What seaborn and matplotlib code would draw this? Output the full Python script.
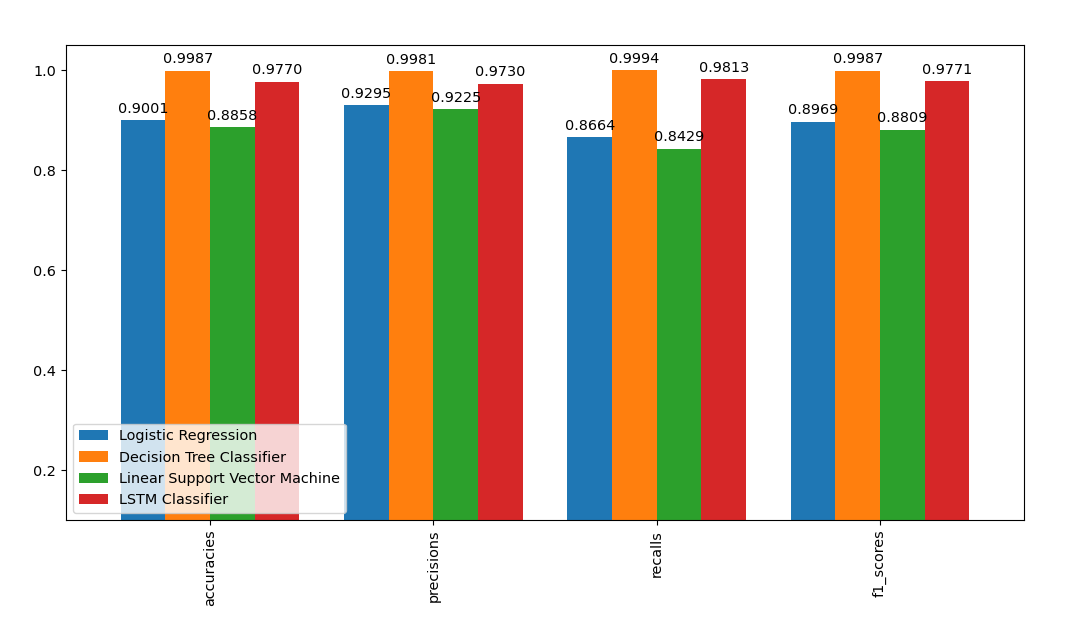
import matplotlib
matplotlib.use("Agg")
import matplotlib.pyplot as plt
import seaborn as sns
import pandas as pd

metrics = ["accuracies", "precisions", "recalls", "f1_scores"]
models = ["Logistic Regression", "Decision Tree Classifier",
          "Linear Support Vector Machine", "LSTM Classifier"]
logistic = [0.9001, 0.9295, 0.8664, 0.8969]
decision_tree = [0.9987, 0.9981, 0.9994, 0.9987]
linear_svm = [0.8858, 0.9225, 0.8429, 0.8809]
lstm = [0.9770, 0.9730, 0.9813, 0.9771]

series = [logistic, decision_tree, linear_svm, lstm]
rows = []
for model, vals in zip(models, series):
    for m, v in zip(metrics, vals):
        rows.append({"metric": m, "model": model, "value": v})
df = pd.DataFrame(rows)

colors = ["#1f77b4", "#ff7f0e", "#2ca02c", "#d62728"]
plt.rcParams["font.size"] = 10.4

fig = plt.figure(figsize=(10.85, 6.3), dpi=100)
ax = fig.add_axes([66 / 1085, 1 - 520 / 630, (1024 - 66) / 1085, (520 - 45) / 630])
sns.barplot(data=df, x="metric", y="value", hue="model", order=metrics,
            hue_order=models, palette=colors, saturation=1, width=0.8,
            linewidth=0, ax=ax, errorbar=None)
for c in ax.containers:
    ax.bar_label(c, fmt="%.4f", padding=3, fontsize=10.4)
ax.set_xlim(-0.645, 3.645)
ax.set_ylim(0.1, 1.05)
ax.set_xlabel("")
ax.set_ylabel("")
ax.tick_params(axis="x", labelrotation=90)
ax.set_yticks([0.2, 0.4, 0.6, 0.8, 1.0])
ax.legend(loc="lower left", title=None)
fig.savefig("out.png", dpi=100)
